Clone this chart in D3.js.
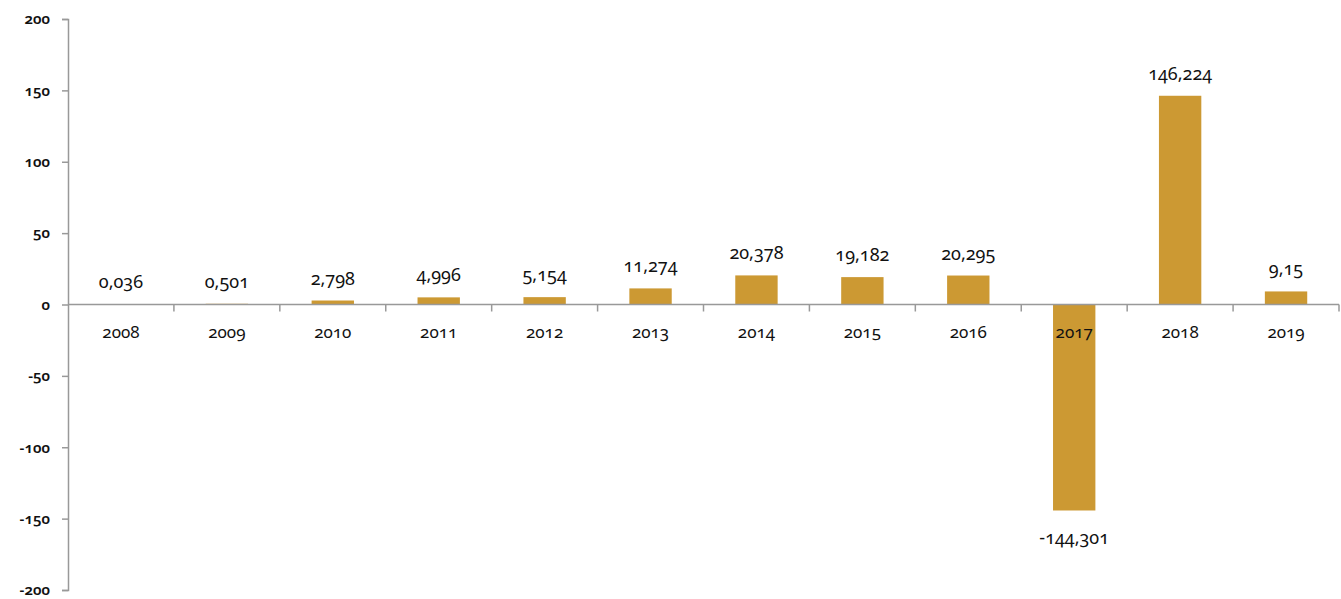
<!DOCTYPE html>
<html>
<head>
<meta charset="utf-8">
<script src="https://cdn.jsdelivr.net/npm/d3@7"></script>
<style>
  body { margin: 0; background: #fff; }
  text { font-variant-numeric: oldstyle-nums; font-feature-settings: "onum" 1; }
</style>
</head>
<body>
<svg id="chart" width="1341" height="599"></svg>
<script>
var years = ["2008", "2009", "2010", "2011", "2012", "2013", "2014", "2015", "2016", "2017", "2018", "2019"];
var values = [0.036, 0.501, 2.798, 4.996, 5.154, 11.274, 20.378, 19.182, 20.295, -144.301, 146.224, 9.15];
var valueLabels = ["0,036", "0,501", "2,798", "4,996", "5,154", "11,274", "20,378", "19,182", "20,295", "-144,301", "146,224", "9,15"];
var yTicks = [-200, -150, -100, -50, 0, 50, 100, 150, 200];

var fontStack = "'Noto Sans', 'Open Sans', sans-serif";
var svg = d3.select("#chart");
var mLeft = 68, mRight = 1339, mTop = 19, mBottom = 590;

var x = d3.scaleBand().domain(years).range([mLeft, mRight]).paddingInner(0.6).paddingOuter(0.3);
var xb = d3.scaleBand().domain(years).range([mLeft, mRight]);
var y = d3.scaleLinear().domain([-200, 200]).range([mBottom, mTop]);

// barras
svg.selectAll("rect.bar")
    .data(values)
    .enter().append("rect")
    .attr("class", "bar")
    .attr("x", (d, i) => x(years[i]))
    .attr("width", x.bandwidth())
    .attr("y", d => y(Math.max(0, d)))
    .attr("height", d => Math.abs(y(d) - y(0)))
    .attr("fill", "#cc9933");

// eje y (guion normal en los negativos, como el original)
var yAxis = d3.axisLeft(y).tickValues(yTicks).tickSize(6).tickPadding(12).tickFormat(d => String(d));
var gy = svg.append("g").attr("transform", "translate(" + mLeft + ",0)").call(yAxis);
gy.select("path.domain").attr("stroke", "#999").attr("stroke-width", 1.5);
gy.selectAll("line").attr("stroke", "#999").attr("stroke-width", 1.5);
gy.selectAll("text").attr("font-family", fontStack).attr("font-size", 15).attr("font-weight", 600).attr("fill", "#111");

// eje x en cero
var gx = svg.append("g").attr("transform", "translate(0," + y(0) + ")");
gx.append("line").attr("x1", mLeft).attr("x2", mRight).attr("stroke", "#999").attr("stroke-width", 1.5);
gx.selectAll("line.tick")
    .data(years)
    .enter().append("line")
    .attr("class", "tick")
    .attr("x1", d => xb(d) + xb.bandwidth())
    .attr("x2", d => xb(d) + xb.bandwidth())
    .attr("y1", 0).attr("y2", 7)
    .attr("stroke", "#999").attr("stroke-width", 1.5);
gx.selectAll("text")
    .data(years)
    .enter().append("text")
    .attr("x", d => xb(d) + xb.bandwidth() / 2)
    .attr("y", 33)
    .attr("text-anchor", "middle")
    .attr("font-family", fontStack)
    .attr("font-size", 17)
    .attr("fill", "#111")
    .text(d => d);

// etiquetas de valor
svg.selectAll("text.val")
    .data(values)
    .enter().append("text")
    .attr("class", "val")
    .attr("x", (d, i) => xb(years[i]) + xb.bandwidth() / 2)
    .attr("y", d => d >= 0 ? y(d) - 16 : y(d) + 34)
    .attr("text-anchor", "middle")
    .attr("font-family", fontStack)
    .attr("font-size", 18)
    .attr("fill", "#111")
    .text((d, i) => valueLabels[i]);
</script>
</body>
</html>
